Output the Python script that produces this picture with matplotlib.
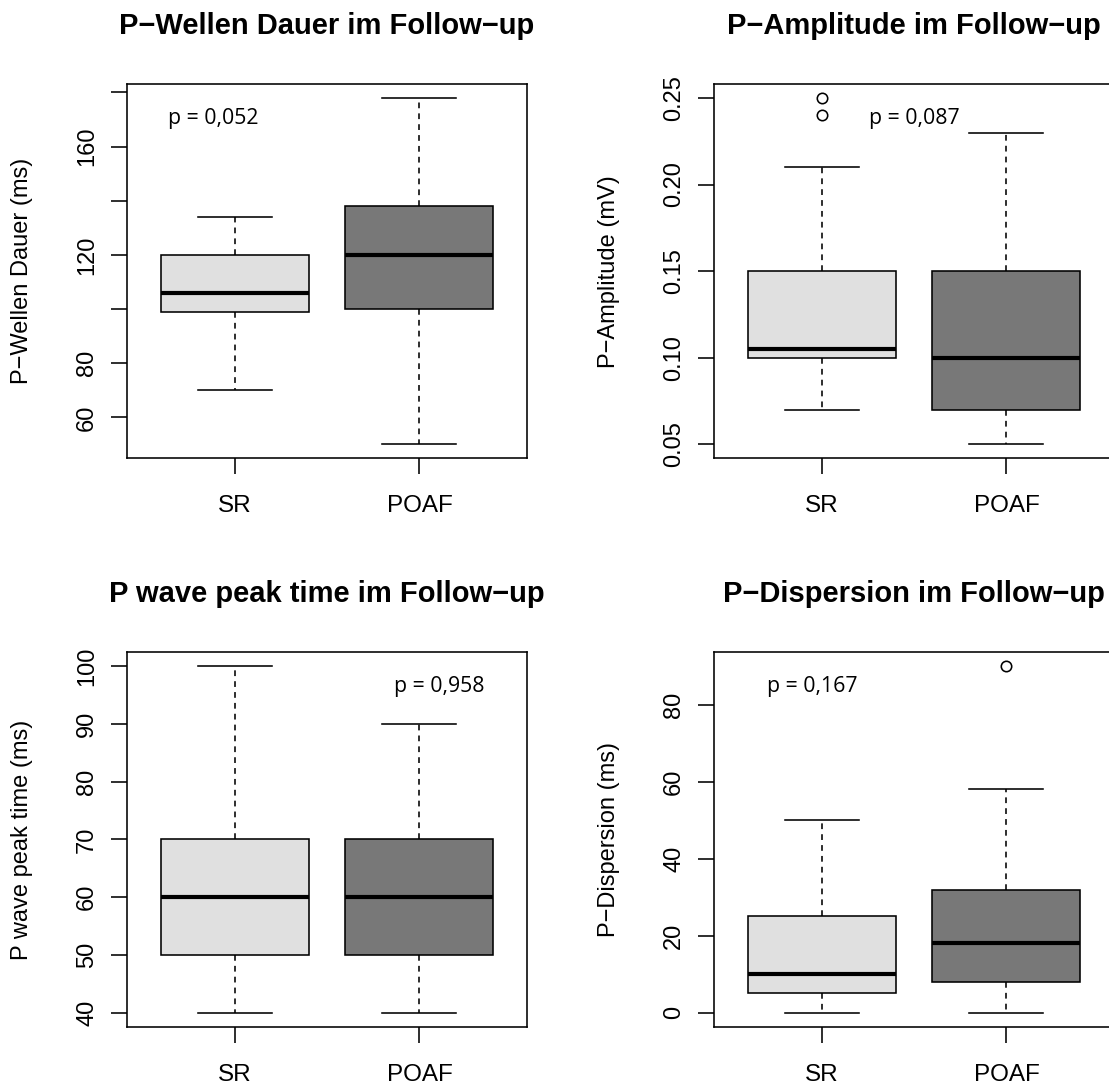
import matplotlib
matplotlib.use('Agg')
import matplotlib.pyplot as plt

groups = ['SR', 'POAF']
fills = ['#E0E0E0', '#787878']

# Kennwerte je Gruppe: unterer Whisker, Q1, Median, Q3, oberer Whisker
dauer_sr = [70, 99, 106, 120, 134]
dauer_poaf = [50, 100, 120, 138, 178]
dauer_out_sr = []
dauer_out_poaf = []

amp_sr = [0.07, 0.10, 0.105, 0.15, 0.21]
amp_poaf = [0.05, 0.07, 0.10, 0.15, 0.23]
amp_out_sr = [0.24, 0.25]
amp_out_poaf = []

peak_sr = [40, 50, 60, 70, 100]
peak_poaf = [40, 50, 60, 70, 90]
peak_out_sr = []
peak_out_poaf = []

disp_sr = [0, 5, 10, 25, 50]
disp_poaf = [0, 8, 18, 32, 58]
disp_out_sr = []
disp_out_poaf = [90]

titles = ['P\u2212Wellen Dauer im Follow\u2212up', 'P\u2212Amplitude im Follow\u2212up',
          'P wave peak time im Follow\u2212up', 'P\u2212Dispersion im Follow\u2212up']
ylabels = ['P\u2212Wellen Dauer (ms)', 'P\u2212Amplitude (mV)',
           'P wave peak time (ms)', 'P\u2212Dispersion (ms)']
p_texts = ['p = 0,052', 'p = 0,087', 'p = 0,958', 'p = 0,167']

yticks = [[60, 80, 100, 120, 140, 160, 180],
          [0.05, 0.10, 0.15, 0.20, 0.25],
          [40, 50, 60, 70, 80, 90, 100],
          [0, 20, 40, 60, 80]]
ytick_labels = [['60', '80', '', '120', '', '160', ''],
                ['0.05', '0.10', '0.15', '0.20', '0.25'],
                ['40', '50', '60', '70', '80', '90', '100'],
                ['0', '20', '40', '60', '80']]

panels = [(dauer_sr, dauer_poaf, dauer_out_sr, dauer_out_poaf),
          (amp_sr, amp_poaf, amp_out_sr, amp_out_poaf),
          (peak_sr, peak_poaf, peak_out_sr, peak_out_poaf),
          (disp_sr, disp_poaf, disp_out_sr, disp_out_poaf)]

# Lage der p-Werte (x in Gruppen-Einheiten, y = Grundlinie in Datenwerten)
p_pos = [(0.883, 168.5), (1.5, 0.2352), (2.105, 95.55), (0.95, 83.3)]


def stats(q, fl):
    return dict(whislo=q[0], q1=q[1], med=q[2], q3=q[3], whishi=q[4], fliers=fl)


W, H = 1109, 1084
fig = plt.figure(figsize=(W / 100, H / 100), dpi=100)
plt.rcParams['font.family'] = ['Liberation Sans', 'DejaVu Sans']

aw, ah = 399.4, 374.3
lefts = [127.3, 714.3, 127.3, 714.3]
tops = [84, 84, 652.3, 652.3]
lw = 1.15

for i in range(4):
    sr, poaf, o_sr, o_poaf = panels[i]
    ax = fig.add_axes([lefts[i] / W, (H - tops[i] - ah) / H, aw / W, ah / H])
    res = ax.bxp([stats(sr, o_sr), stats(poaf, o_poaf)], positions=[1, 2],
                 widths=0.8, capwidths=0.4, patch_artist=True, manage_ticks=False,
                 boxprops=dict(linewidth=lw, edgecolor='black'),
                 medianprops=dict(linewidth=3.0, color='black', solid_capstyle='butt'),
                 whiskerprops=dict(linewidth=lw, color='black', linestyle=(0, (3.6, 3.2))),
                 capprops=dict(linewidth=lw, color='black'),
                 flierprops=dict(marker='o', markerfacecolor='none', markeredgecolor='black',
                                 markersize=7.5, markeredgewidth=lw))
    for patch, c in zip(res['boxes'], fills):
        patch.set_facecolor(c)

    vals = sr + poaf + o_sr + o_poaf
    lo, hi = min(vals), max(vals)
    ext = 0.04 * (hi - lo)
    ax.set_ylim(lo - ext, hi + ext)
    ax.set_xlim(0.42, 2.58)

    ax.set_xticks([1, 2])
    ax.set_xticklabels(groups, fontsize=17.5)
    ax.tick_params(axis='x', length=11.2, width=lw, pad=15.5)
    ax.set_yticks(yticks[i])
    ax.set_yticklabels(ytick_labels[i], fontsize=17, rotation=90, ha='center', va='center')
    ax.tick_params(axis='y', length=11.2, width=lw, pad=17.8)
    for s in ax.spines.values():
        s.set_linewidth(lw)

    ax.set_ylabel(ylabels[i], fontsize=17, va='center')
    ax.yaxis.set_label_coords(-105 / aw, 0.5)

    ax.annotate(titles[i], xy=(0.5, 1), xycoords='axes fraction',
                xytext=(0, 36), textcoords='offset points',
                ha='center', va='baseline', fontsize=21, fontweight='bold')

    ax.text(p_pos[i][0], p_pos[i][1], p_texts[i], ha='center', va='baseline',
            fontsize=15.3, family=['Open Sans', 'DejaVu Sans'])

fig.savefig('out.png', dpi=100)
